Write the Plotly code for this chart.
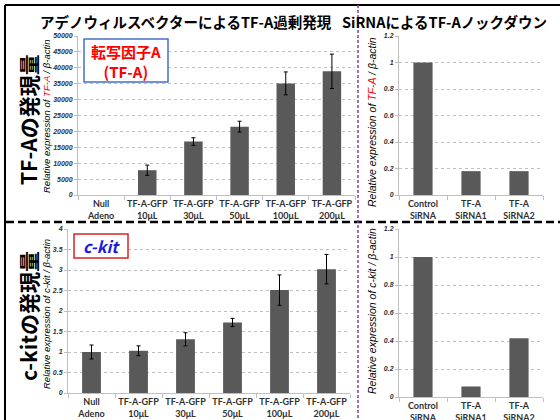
import plotly.graph_objects as go

# ---- data ----
adeno_labels = ["Null<br>Adeno", "TF-A-GFP<br>10μL", "TF-A-GFP<br>30μL",
                "TF-A-GFP<br>50μL", "TF-A-GFP<br>100μL", "TF-A-GFP<br>200μL"]
sirna_labels = ["Control<br>SiRNA", "TF-A<br>SiRNA1", "TF-A<br>SiRNA2"]

# Null Adeno: no TF-A signal detected, so no bar is drawn
tfa_adeno = [None, 7800, 16800, 21500, 35100, 38900]
tfa_adeno_err = [None, 1600, 1200, 1700, 3600, 5400]
tfa_sirna = [1.0, 0.18, 0.18]

ckit_adeno = [1.0, 1.03, 1.31, 1.72, 2.51, 3.02]
ckit_adeno_err = [0.17, 0.12, 0.16, 0.10, 0.37, 0.36]
ckit_sirna = [1.0, 0.075, 0.42]

W, H = 560, 420


def px(x):
    return x / W


def py(y):
    return 1 - y / H


BAR = "#595959"
GRID = "#c0c0c0"
AXIS = "#bfbfbf"
TICK_TXT = "#404040"
LAT = "Lato, 'Liberation Sans', sans-serif"
JP = "'Noto Sans CJK JP', sans-serif"
ERR = dict(type="data", visible=True, color="black", thickness=1, width=2)

fig = go.Figure()
fig.add_trace(go.Bar(x=adeno_labels, y=tfa_adeno, width=0.4, marker_color=BAR,
                     error_y=dict(array=tfa_adeno_err, **ERR), xaxis="x", yaxis="y"))
fig.add_trace(go.Bar(x=sirna_labels, y=tfa_sirna, width=0.4, marker_color=BAR,
                     xaxis="x2", yaxis="y2"))
fig.add_trace(go.Bar(x=adeno_labels, y=ckit_adeno, width=0.4, marker_color=BAR,
                     error_y=dict(array=ckit_adeno_err, **ERR), xaxis="x3", yaxis="y3"))
fig.add_trace(go.Bar(x=sirna_labels, y=ckit_sirna, width=0.4, marker_color=BAR,
                     xaxis="x4", yaxis="y4"))
fig.update_traces(marker_line_width=0, showlegend=False, hoverinfo="skip")


def xax(x0, x1, anchor):
    return dict(domain=[px(x0), px(x1)], anchor=anchor, type="category",
                automargin=False, tickangle=0,
                showline=True, linecolor=AXIS, linewidth=1,
                ticks="outside", tickson="boundaries", ticklen=4, tickcolor=AXIS,
                tickfont=dict(family=LAT, size=9, color="#303030", weight="bold"),
                showgrid=False, zeroline=False, fixedrange=True)


def yax(y_bottom, y_top, anchor, rng, dtick, fmt):
    return dict(domain=[py(y_bottom), py(y_top)], anchor=anchor, range=rng, dtick=dtick,
                automargin=False, tickformat=fmt,
                showline=True, linecolor=AXIS, linewidth=1,
                ticks="outside", ticklen=3, tickcolor=AXIS,
                showgrid=True, gridcolor=GRID, griddash="dot", gridwidth=1,
                zeroline=False,
                tickfont=dict(family="'Liberation Sans', sans-serif", size=7,
                              color="#303030", weight="bold", style="italic"),
                fixedrange=True)


fig.update_layout(
    width=W, height=H, margin=dict(l=0, r=0, t=0, b=0, autoexpand=False),
    paper_bgcolor="white", plot_bgcolor="white", bargap=0.6,
    xaxis=xax(78, 355, "y"),
    yaxis=yax(195, 36, "x", [0, 50000], 5000, "d"),
    xaxis2=xax(399, 543, "y2"),
    yaxis2=yax(195, 36, "x2", [0, 1.2], 0.2, "~g"),
    xaxis3=xax(68, 350, "y3"),
    yaxis3=yax(393, 229, "x3", [0, 4], 0.5, "~g"),
    xaxis4=xax(399, 543, "y4"),
    yaxis4=yax(397, 229, "x4", [0, 1.2], 0.2, "~g"),
)

shapes = [
    # outer frame (top and left edges)
    dict(type="line", x0=px(5), x1=px(W), y0=py(5), y1=py(5),
         line=dict(color="black", width=2)),
    dict(type="line", x0=px(5), x1=px(5), y0=py(5), y1=py(H),
         line=dict(color="black", width=2)),
    # horizontal separator between the TF-A and c-kit rows
    dict(type="line", x0=px(6), x1=px(W), y0=py(222), y1=py(222),
         line=dict(color="black", width=2.5, dash="8px,4px")),
    # vertical separator between overexpression and knockdown columns
    dict(type="line", x0=px(358), x1=px(358), y0=py(5), y1=py(H),
         line=dict(color="#7a3fb8", width=1.5, dash="3px,2px")),
    # label boxes
    dict(type="rect", x0=px(84), x1=px(168), y0=py(39), y1=py(82),
         line=dict(color="#4472c4", width=1.5), fillcolor="white", layer="above"),
    dict(type="rect", x0=px(74), x1=px(128), y0=py(234), y1=py(258),
         line=dict(color="#e02020", width=1.5), fillcolor="white", layer="above"),
]
for s in shapes:
    s.update(xref="paper", yref="paper")
fig.update_layout(shapes=shapes)


def note(x, y, text, size, color="black", family=JP, angle=0, weight="bold",
         style="normal", xanchor="center"):
    fig.add_annotation(x=px(x), y=py(y), xref="paper", yref="paper", text=text,
                       showarrow=False, textangle=angle, xanchor=xanchor,
                       yanchor="middle",
                       font=dict(family=family, size=size, color=color,
                                 weight=weight, style=style))


# column headers
note(186, 21, "<b>アデノウィルスベクターによるTF-A過剰発現</b>", 14.5)
note(340, 21, "<b>SiRNAによるTF-Aノックダウン</b>", 14.5, xanchor="left")

# row headers
note(28, 120, "<b>TF-Aの発現量</b>", 21, angle=-90)
note(28, 316, "<b>c-kitの発現量</b>", 21, angle=-90)

# label boxes
note(126, 61, "<b>転写因子A<br>(TF-A)</b>", 15, color="#ff0000")
note(101, 246, "<b><i>c-kit</i></b>", 16, color="#1a1adf", style="italic")

# y-axis titles
AX_FONT = "'Liberation Sans', sans-serif"
tfa_title = "Relative expression of <span style='color:#ff0000'>TF-A</span> / β-actin"
ckit_title = "Relative expression of c-kit / β-actin"
note(46, 117, tfa_title, 9.5, family=AX_FONT, angle=-90, weight="normal", style="italic")
note(372, 122, tfa_title, 10.5, family=AX_FONT, angle=-90, weight="normal", style="italic")
note(46, 314, ckit_title, 9.5, family=AX_FONT, angle=-90, weight="normal", style="italic")
note(372, 311, ckit_title, 10.5, family=AX_FONT, angle=-90, weight="normal", style="italic")

fig.write_html("out.html")
